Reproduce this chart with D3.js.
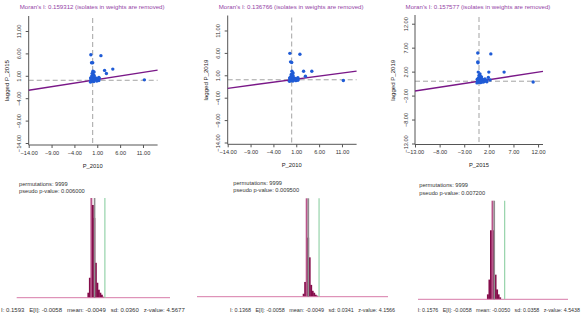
<!DOCTYPE html>
<html>
<head>
<meta charset="utf-8">
<script src="https://cdn.jsdelivr.net/npm/d3@7"></script>
<style>
  body { margin: 0; background: #fff; }
  svg { display: block; }
  text { font-family: "Liberation Sans", Arial, sans-serif; }
</style>
</head>
<body>
<div id="chart"></div>
<script>
// standardized values
const p2010    = [-0.4, 1.8, -0.25, 0.0, 0.05, 0.3, 2.6, 4.4, 3.0, 11.3, -0.1, 0.1, 0.3, -0.2, 0.1, 0.5, 0.7, 0.1, -0.2, 0.5, 0.85, 1.15, 1.4, 0.0, -0.4, -0.45, -0.3, 0.25, 0.9, 1.35, 1.35, -0.5];
const p2015    = [-0.25, 2.4, -0.25, -0.2, -0.15, 0.2, 2.0, 5.1, 1.9, 11.0, 0.0, 0.3, 0.5, -0.1, 0.2, 0.6, 0.9, 0.1, -0.2, 0.4, 1.1, 2.25, 1.5, 0.0, -0.3, -0.35, -0.25, 0.3, 0.8, 1.6, 1.2, -0.4];
const lagP2015 = [5.7, 5.5, 3.9, 3.9, 2.0, 1.85, 2.2, 2.5, 1.5, 0.1, 1.55, 1.3, 1.1, 0.95, 0.75, 0.6, 0.45, 0.35, 0.2, 0.2, 0.05, 0.3, 0.45, -0.1, 0.05, 0.5, -0.3, -0.3, -0.15, -0.05, 0.65, -0.4];
const lagP2019 = [5.9, 5.7, 4.0, 3.85, 1.9, 1.5, 1.9, 1.9, 0.8, -0.15, 1.2, 1.0, 0.9, 0.7, 0.55, 0.4, 0.3, 0.2, 0.1, 0.05, -0.05, 0.25, 0.2, -0.1, 0.0, 0.4, -0.25, -0.3, -0.2, -0.1, 0.45, -0.35];

const moransI = [0.159312, 0.136766, 0.157577];
const xNames = ["P_2010", "P_2010", "P_2015"];
const yNames = ["lagged P_2015", "lagged P_2019", "lagged P_2019"];
const ticksA = [-14, -9, -4, 1, 6, 11];
const ticksB = [-13, -8, -3, 2, 7, 12];

// permutation histograms (9999 permutations)
const binStart = [-0.12, -0.08, -0.12];
const binWidth = [0.024, 0.02, 0.024];
const counts1 = [137, 548, 2740, 2548, 2192, 959, 411, 219, 137, 82, 26];
const counts2 = [123, 617, 4115, 2469, 1646, 494, 247, 165, 82, 41];
const counts3 = [163, 651, 2280, 3257, 2280, 814, 326, 163, 65];
const permutations = [9999, 9999, 9999];
const pValues = ["0.006000", "0.009500", "0.007200"];
const statI = ["0.1593", "0.1368", "0.1576"];
const expI = ["-0.0058", "-0.0058", "-0.0058"];
const permMean = ["-0.0049", "-0.0049", "-0.0050"];
const permSd = ["0.0360", "0.0341", "0.0358"];
const zValue = ["4.5677", "4.1566", "4.5438"];

const width = 583, height = 318;
const svg = d3.select("#chart").append("svg")
    .attr("width", width)
    .attr("height", height);

// panel placement (pixels)
const scatterBox = [
    { left: 28.7, right: 157.6, bottom: 143, top: 18, axisY: 145, xDom: [-14, 14.2], yDom: [-14, 13.9], ticks: ticksA },
    { left: 227.7, right: 356.6, bottom: 142.5, top: 17.5, axisY: 144.3, xDom: [-14, 14.2], yDom: [-14, 13.9], ticks: ticksA },
    { left: 415, right: 543, bottom: 143.5, top: 17, axisY: 144.5, xDom: [-13, 13], yDom: [-13, 13.4], ticks: ticksB }
];
const histBox = [
    { left: 16.7, right: 170, dom: [-1.25, 1.2], base: 297.7, top: 198, textX: 19, t1: 185.5, t2: 193, statX: 1, statSize: 6.0 },
    { left: 197, right: 388, dom: [-1.48, 1.05], base: 296.7, top: 198.3, textX: 233.3, t1: 184.5, t2: 192.3, statX: 230, statSize: 5.4 },
    { left: 418, right: 568, dom: [-1.2, 1.15], base: 299.3, top: 200.7, textX: 419.3, t1: 187.3, t2: 195, statX: 417.7, statSize: 5.3 }
];

const scatterX = [p2010, p2010, p2015];
const scatterY = [lagP2015, lagP2019, lagP2019];
const allCounts = [counts1, counts2, counts3];

function drawScatter(i) {
    const box = scatterBox[i];
    const g = svg.append("g");

    const x = d3.scaleLinear().domain(box.xDom).range([box.left, box.right]);
    const y = d3.scaleLinear().domain(box.yDom).range([box.bottom, box.top]);

    // title
    g.append("text")
        .attr("x", (box.left + box.right) / 2 - 1)
        .attr("y", 8.5)
        .attr("text-anchor", "middle")
        .style("font-size", "6.1px")
        .attr("fill", "#9444a6")
        .text("Moran's I: " + moransI[i] + " (isolates in weights are removed)");

    // dashed zero lines
    g.append("line")
        .attr("x1", box.left).attr("x2", box.right)
        .attr("y1", y(0)).attr("y2", y(0))
        .attr("stroke", "#a3a3a3").attr("stroke-dasharray", "5,3");
    g.append("line")
        .attr("x1", x(0)).attr("x2", x(0))
        .attr("y1", box.top).attr("y2", box.axisY)
        .attr("stroke", "#a3a3a3").attr("stroke-dasharray", "5,3");

    // axes
    const xAxis = g.append("g")
        .attr("transform", "translate(0," + box.axisY + ")")
        .call(d3.axisBottom(x).tickValues(box.ticks).tickFormat(d3.format(".2f")).tickSize(3).tickSizeOuter(0).tickPadding(3));
    const yAxis = g.append("g")
        .attr("transform", "translate(" + box.left + ",0)")
        .call(d3.axisLeft(y).tickValues(box.ticks).tickFormat(d3.format(".2f")).tickSize(3).tickSizeOuter(0));

    [xAxis, yAxis].forEach(a => {
        a.select(".domain").attr("stroke", "#555");
        a.selectAll(".tick line").attr("stroke", "#555");
        a.selectAll("text").attr("fill", "#333").style("font-size", "5.6px");
    });
    yAxis.select(".domain").attr("d", "M0," + box.axisY + "V" + (box.top - 2));
    xAxis.select(".domain").attr("d", "M" + box.left + ",0H" + box.right);

    yAxis.selectAll(".tick text")
        .attr("x", null).attr("dy", null)
        .attr("text-anchor", "middle")
        .attr("transform", "translate(-7.5,0) rotate(-90)");

    // axis titles
    g.append("text")
        .attr("x", x(0))
        .attr("y", box.axisY + 22.5)
        .attr("text-anchor", "middle")
        .style("font-size", "5.8px")
        .attr("fill", "#222")
        .text(xNames[i]);
    g.append("text")
        .attr("transform", "translate(" + (box.left - 20) + "," + ((box.top + box.bottom) / 2) + ") rotate(-90)")
        .attr("text-anchor", "middle")
        .style("font-size", "6.1px")
        .attr("fill", "#222")
        .text(yNames[i]);

    // regression line, slope = Moran's I
    g.append("line")
        .attr("x1", x(box.xDom[0])).attr("y1", y(box.xDom[0] * moransI[i]))
        .attr("x2", x(box.xDom[1])).attr("y2", y(box.xDom[1] * moransI[i]))
        .attr("stroke", "#7a1888").attr("stroke-width", 1.4);

    // points
    g.selectAll(".pt")
        .data(d3.range(scatterX[i].length))
        .enter().append("circle")
        .attr("class", "pt")
        .attr("cx", d => x(scatterX[i][d]))
        .attr("cy", d => y(scatterY[i][d]))
        .attr("r", 1.7)
        .attr("fill", "#1f5bd6");
}

function drawHist(i) {
    const box = histBox[i];
    const counts = allCounts[i];
    const g = svg.append("g");

    const x = d3.scaleLinear().domain(box.dom).range([box.left, box.right]);
    const y = d3.scaleLinear().domain([0, d3.max(counts)]).range([box.base, box.top]);
    const maxIdx = counts.indexOf(d3.max(counts));

    g.append("text")
        .attr("x", box.textX).attr("y", box.t1)
        .style("font-size", "5.7px").attr("fill", "#333")
        .text("permutations: " + permutations[i]);
    g.append("text")
        .attr("x", box.textX).attr("y", box.t2)
        .style("font-size", "5.7px").attr("fill", "#333")
        .text("pseudo p-value: " + pValues[i]);

    // bars, slightly overlapped so thin bins don't leave white seams
    g.selectAll(".bar")
        .data(counts)
        .enter().append("rect")
        .attr("class", "bar")
        .attr("x", (d, k) => x(binStart[i] + k * binWidth[i]))
        .attr("width", x(binWidth[i]) - x(0) + 0.4)
        .attr("y", d => y(d))
        .attr("height", d => box.base - y(d))
        .attr("fill", (d, k) => k === maxIdx ? "#b9558a" : "#850d4b");

    // baseline
    g.append("line")
        .attr("x1", box.left).attr("x2", box.right)
        .attr("y1", box.base).attr("y2", box.base)
        .attr("stroke", "#d77aa8").attr("stroke-width", 1);

    // mean of permutations and observed I
    g.append("line")
        .attr("x1", x(+permMean[i])).attr("x2", x(+permMean[i]))
        .attr("y1", box.top).attr("y2", box.base)
        .attr("stroke", "#8f8f8f").attr("stroke-width", 1.6);
    g.append("line")
        .attr("x1", x(+statI[i])).attr("x2", x(+statI[i]))
        .attr("y1", box.top).attr("y2", box.base)
        .attr("stroke", "#96d3aa").attr("stroke-width", 1.2);

    g.append("text")
        .attr("x", box.statX).attr("y", 311.5)
        .style("font-size", box.statSize + "px")
        .style("white-space", "pre")
        .attr("fill", "#333")
        .text("I: " + statI[i] + "   E[I]: " + expI[i] + "   mean: " + permMean[i] + "   sd: " + permSd[i] + "   z-value: " + zValue[i]);
}

for (let i = 0; i < 3; i++) {
    drawScatter(i);
    drawHist(i);
}
</script>
</body>
</html>
